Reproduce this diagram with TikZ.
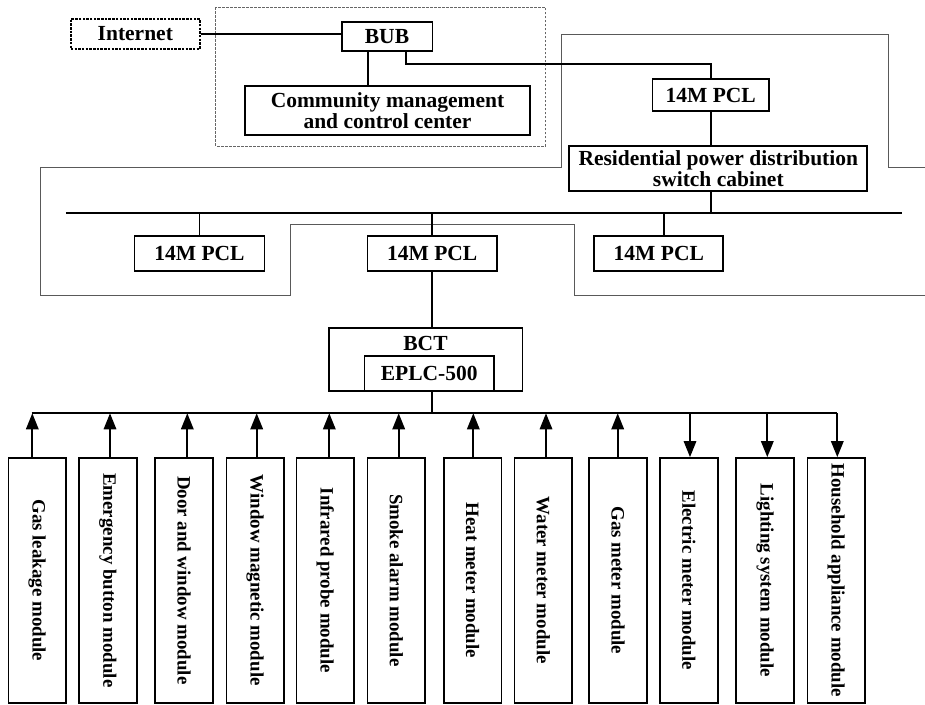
\documentclass[tikz,border=0pt]{standalone}
\usepackage{fontspec}
\setmainfont{Liberation Serif}
\usetikzlibrary{arrows.meta}
\begin{document}
\begin{tikzpicture}[x=1pt,y=-1pt,
  box/.style={draw,line width=1.7pt,inner sep=0pt,align=center,font=\fontsize{21.5}{21}\selectfont\bfseries},
  lbl/.style={inner sep=0pt,font=\fontsize{21.5}{21}\selectfont\bfseries},
  mod/.style={draw,line width=1.7pt,inner sep=0pt,minimum width=57.7pt,minimum height=244.7pt},
  modtxt/.style={inner sep=0pt,rotate=-90,font=\fontsize{18.9}{20}\selectfont\bfseries},
  wire/.style={line width=1.7pt},
  outl/.style={line width=0.9pt,draw=black!65},
  uparr/.style={wire,-{Triangle[length=16pt,width=12.5pt]}},
  dnarr/.style={wire,-{Triangle[length=16pt,width=12.5pt]}},
]
\useasboundingbox (0,0) rectangle (925,704);

% grey outlines
\draw[outl] (925,167.7) -- (888,167.7) -- (888,34.7) -- (561.4,34.7) -- (561.4,167.7)
  -- (40.6,167.7) -- (40.6,295) -- (290.5,295) -- (290.5,224) -- (574,224) -- (574,295) -- (925,295);
\draw[line width=0.8pt,draw=black!60,dash pattern=on 2.5pt off 1.5pt] (215.8,7.3) rectangle (545.5,146);

% top nodes
\node[box,dash pattern=on 2.5pt off 1.2pt,minimum width=129pt,minimum height=30pt] (inet) at (135.3,34) {Internet};
\node[box,minimum width=90.7pt,minimum height=29.6pt] (bub) at (387,36.5) {BUB};
\node[box,minimum width=285pt,minimum height=49.3pt] (cmc) at (387.5,110.3) {Community management\\and control center};
\node[box,minimum width=116.7pt,minimum height=31.4pt] (pcl0) at (710.7,95) {14M PCL};
\node[box,minimum width=298pt,minimum height=44.7pt] (res) at (718.3,168.3) {Residential power distribution\\switch cabinet};

\node[box,minimum width=130pt,minimum height=34.7pt] (pclA) at (199.5,253.3) {14M PCL};
\node[box,minimum width=129.3pt,minimum height=34.7pt] (pclB) at (432.2,253.3) {14M PCL};
\node[box,minimum width=129pt,minimum height=34.7pt] (pclC) at (658.8,253.3) {14M PCL};

\node[box,minimum width=193.3pt,minimum height=62.4pt] (bct) at (425.7,359.5) {};
\node[lbl] (bcttxt) at (425.5,343.7) {BCT};
\node[box,minimum width=129.7pt,minimum height=34.4pt] (eplc) at (429.2,373.5) {EPLC-500};

% coordinates
\coordinate (bend) at (405.7,64.3);
\coordinate (busL) at (65.8,212.7);
\coordinate (busR) at (902.3,212.7);
\coordinate (bus2L) at (31.7,413.3);
\coordinate (bus2R) at (837.3,413.3);
\coordinate (cmcx) at (367.8,60);
\coordinate (pclCx) at (664,230);
\coordinate (eplcx) at (432.3,400);

% connectors top
\draw[wire] (inet.east) -- (inet.east -| bub.west);
\draw[wire] (bub.south -| cmcx) -- (cmc.north -| cmcx);
\draw[wire] (bub.south -| bend) -- (bend) -| (pcl0.north);
\draw[wire] (pcl0.south) -- (pcl0.south |- res.north);
\draw[wire] (res.south -| pcl0.south) -- (pcl0.south |- busL);
\draw[wire] (busL) -- (busR);
\draw[wire] (pclA.north) -- (pclA.north |- busL);
\draw[wire] (pclB.north) -- (pclB.north |- busL);
\draw[wire] (pclC.north -| pclCx) -- (pclCx |- busL);
\draw[wire] (pclB.south) -- (pclB.south |- bct.north);
\draw[wire] (eplc.south -| eplcx) -- (eplcx |- bus2L);
\draw[wire,line join=miter] (bus2L) -- (bus2R);

% modules
\foreach \i/\cx/\ax/\t in {
  1/37.2/32.3/Gas leakage module,
  2/107.8/110/Emergency button module,
  3/184/187.3/Door and window module,
  4/255.2/256.7/Window magnetic module,
  5/325.2/329.3/Infrared probe module,
  6/396.3/398.7/Smoke alarm module,
  7/472.5/473.3/Heat meter module,
  8/543.3/546/Water meter module,
  9/618/617.7/Gas meter module,
  10/688.8/690/Electric meter module,
  11/765/767.3/Lighting system module,
  12/836.2/837.3/Household appliance module}{
  \node[mod] (m\i) at (\cx,580.3) {};
  \node[modtxt] (t\i) at (m\i.center) {\t};
  \coordinate (a\i) at (\ax,413.3);
}
\foreach \i in {1,...,9}{
  \draw[uparr] (m\i.north -| a\i) -- (a\i);
}
\foreach \i in {10,11,12}{
  \draw[dnarr] (a\i) -- (m\i.north -| a\i);
}
\end{tikzpicture}
\end{document}
